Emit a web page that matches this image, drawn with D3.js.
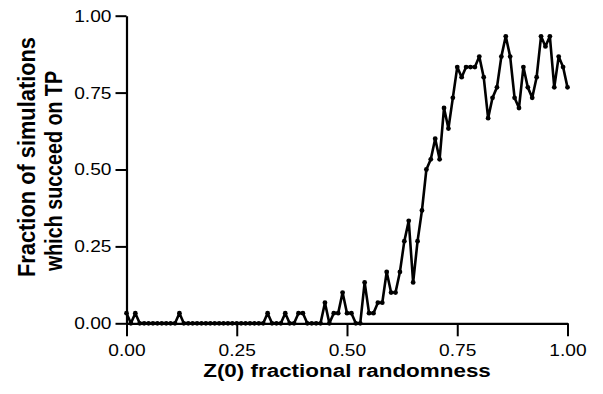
<!DOCTYPE html>
<html>
<head>
<meta charset="utf-8">
<script src="https://cdn.jsdelivr.net/npm/d3@7"></script>
<style>
  html, body { margin: 0; padding: 0; background: #fff; }
  svg { display: block; }
  text { font-family: "Liberation Sans", Arial, Helvetica, sans-serif; fill: #000; }
</style>
</head>
<body>
<svg id="chart" width="603" height="394"></svg>
<script>
// ---- data ----
const xValues = [
  0.00,0.01,0.02,0.03,0.04,0.05,0.06,0.07,0.08,0.09,
  0.10,0.11,0.12,0.13,0.14,0.15,0.16,0.17,0.18,0.19,
  0.20,0.21,0.22,0.23,0.24,0.25,0.26,0.27,0.28,0.29,
  0.30,0.31,0.32,0.33,0.34,0.35,0.36,0.37,0.38,0.39,
  0.40,0.41,0.42,0.43,0.44,0.45,0.46,0.47,0.48,0.49,
  0.50,0.51,0.52,0.53,0.54,0.55,0.56,0.57,0.58,0.59,
  0.60,0.61,0.62,0.63,0.64,0.65,0.66,0.67,0.68,0.69,
  0.70,0.71,0.72,0.73,0.74,0.75,0.76,0.77,0.78,0.79,
  0.80,0.81,0.82,0.83,0.84,0.85,0.86,0.87,0.88,0.89,
  0.90,0.91,0.92,0.93,0.94,0.95,0.96,0.97,0.98,0.99,
  1.00
];
const successFraction = [
  0.033,0,0.033,0,0,0,0,0,0,0,
  0,0,0.033,0,0,0,0,0,0,0,
  0,0,0,0,0,0,0,0,0,0,
  0,0,0.033,0,0,0,0.033,0,0,0.033,
  0.033,0,0,0,0,0.067,0,0.033,0.033,0.1,
  0.033,0.033,0,0,0.133,0.033,0.033,0.067,0.067,0.167,
  0.1,0.1,0.167,0.267,0.333,0.133,0.267,0.367,0.5,0.533,
  0.6,0.533,0.7,0.633,0.733,0.833,0.8,0.833,0.833,0.833,
  0.867,0.8,0.667,0.733,0.767,0.867,0.933,0.867,0.733,0.7,
  0.833,0.767,0.733,0.8,0.933,0.9,0.933,0.767,0.867,0.833,
  0.767
];
const xTicks = [0, 0.25, 0.5, 0.75, 1.0];
const yTicks = [0, 0.25, 0.5, 0.75, 1.0];
const xTitle = "Z(0) fractional randomness";
const yTitleLines = ["Fraction of simulations", "which succeed on TP"];

// ---- layout ----
const svg = d3.select("#chart");
const x = d3.scaleLinear().domain([0, 1]).range([126.5, 567.5]);
const y = d3.scaleLinear().domain([0, 1]).range([323.3, 15.7]);
const SX = 1.13; // horizontal stretch of the scanned text

const data = xValues.map((v, i) => ({ x: v, y: successFraction[i] }));

// data line
svg.append("path")
  .datum(data)
  .attr("fill", "none")
  .attr("stroke", "#000")
  .attr("stroke-width", 2.6)
  .attr("stroke-linejoin", "round")
  .attr("d", d3.line().x(d => x(d.x)).y(d => y(d.y)));

svg.append("g").selectAll("circle")
  .data(data)
  .join("circle")
  .attr("cx", d => x(d.x))
  .attr("cy", d => y(d.y))
  .attr("r", 2.4)
  .attr("fill", "#000");

// axes
const yAxis = svg.append("g")
  .attr("transform", `translate(${x(0)},0)`)
  .call(d3.axisLeft(y).tickValues(yTicks).tickFormat(d3.format(".2f"))
        .tickSize(11).tickSizeOuter(0).tickPadding(4));

const xAxis = svg.append("g")
  .attr("transform", `translate(0,${y(0)})`)
  .call(d3.axisBottom(x).tickValues(xTicks).tickFormat(d3.format(".2f"))
        .tickSize(13).tickSizeOuter(0).tickPadding(8));

[yAxis, xAxis].forEach(g => {
  g.select(".domain").attr("stroke", "#000").attr("stroke-width", 2.2);
  g.selectAll(".tick line").attr("stroke", "#000").attr("stroke-width", 2);
  g.selectAll(".tick text")
    .style("font-family", '"Liberation Sans", Arial, sans-serif')
    .attr("font-size", 17)
    .attr("fill", "#000");
});
yAxis.selectAll(".tick text")
  .attr("x", -15 / SX)
  .attr("transform", `scale(${SX},1)`);
xAxis.selectAll(".tick text")
  .attr("transform", `scale(${SX},1)`);

// x title
svg.append("text")
  .attr("transform", `translate(${(x(0) + x(1)) / 2},377) scale(1.18,1)`)
  .attr("text-anchor", "middle")
  .attr("font-size", 19)
  .attr("font-weight", "bold")
  .text(xTitle);

// y title
const yTitlePos = [{ bx: 35, cy: 157, len: 240 }, { bx: 61.5, cy: 171, len: 200 }];
yTitleLines.forEach((t, i) => {
  svg.append("text")
    .attr("transform", `translate(${yTitlePos[i].bx},${yTitlePos[i].cy}) scale(${SX},1) rotate(-90)`)
    .attr("text-anchor", "middle")
    .attr("font-size", 21)
    .attr("font-weight", "bold")
    .attr("textLength", yTitlePos[i].len)
    .attr("lengthAdjust", "spacingAndGlyphs")
    .text(t);
});
</script>
</body>
</html>
